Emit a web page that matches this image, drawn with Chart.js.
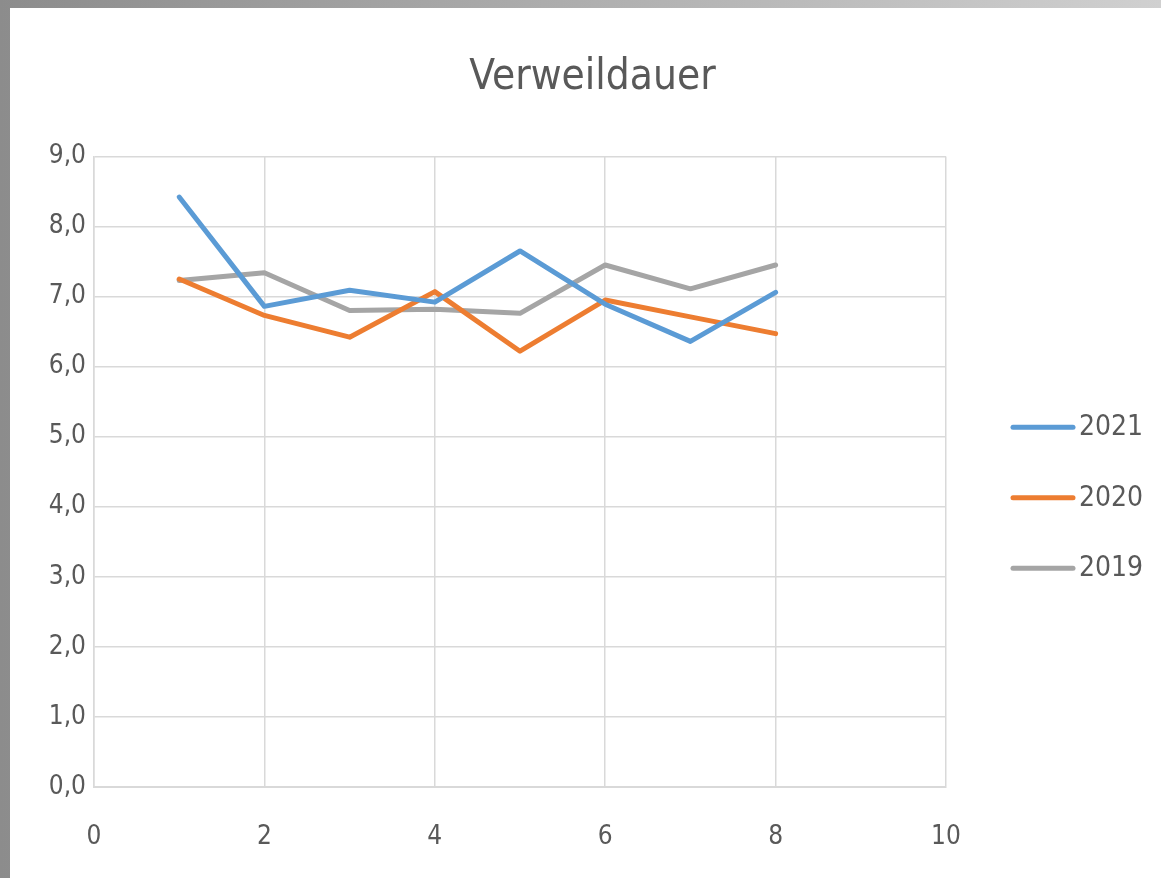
<!DOCTYPE html>
<html>
<head>
<meta charset="utf-8">
<script src="https://cdn.jsdelivr.net/npm/chart.js@4"></script>
<style>
  html, body { margin: 0; padding: 0; }
  body { width: 1161px; height: 878px; background: linear-gradient(90deg, #8c8c8c, #b5b5b5 60%, #d0d0d0); overflow: hidden; }
  #frame { position: absolute; left: 10px; top: 8px; width: 1151px; height: 870px; background: #fff; }
  #chart { display: block; }
</style>
</head>
<body>
<div id="frame"><canvas id="chart" width="1151" height="870"></canvas></div>
<script>
// Verweildauer - three yearly lines on a linear x axis
const xValues = [1, 2, 3, 4, 5, 6, 7, 8];
const y2021 = [8.42, 6.86, 7.09, 6.92, 7.65, 6.89, 6.36, 7.06];
const y2020 = [7.25, 6.73, 6.42, 7.07, 6.22, 6.95, 6.71, 6.47];
const y2019 = [7.23, 7.34, 6.80, 6.82, 6.76, 7.45, 7.11, 7.45];
const seriesNames = ['2021', '2020', '2019'];
const xTicks = [0, 2, 4, 6, 8, 10];
const yTicks = [0, 1, 2, 3, 4, 5, 6, 7, 8, 9];

const FONT = '"Liberation Sans Narrow", "DejaVu Sans Condensed", "Liberation Sans", sans-serif';
const TXT = '#595959';
const GRID = '#d9d9d9';
const LINE_W = 5;

function pts(ys) { return xValues.map((x, i) => ({ x: x, y: ys[i] })); }

const colors = ['#5b9bd5', '#ed7d31', '#a5a5a5'];
const datasets = [y2021, y2020, y2019].map((ys, i) => ({
    label: seriesNames[i],
    data: pts(ys),
    borderColor: colors[i],
    backgroundColor: colors[i],
    borderWidth: LINE_W,
    pointRadius: 0,
    tension: 0,
    borderCapStyle: 'round',
    borderJoinStyle: 'round'
}));

// right-hand legend, Excel style: line sample + label, placed next to the plot area
const sideLegend = {
    id: 'sideLegend',
    afterDraw(chart) {
        const { ctx, chartArea } = chart;
        const mid = (chartArea.top + chartArea.bottom) / 2 + 26;
        const x0 = chartArea.right + 67;
        ctx.save();
        ctx.font = '28px ' + FONT;
        ctx.fillStyle = TXT;
        ctx.textBaseline = 'middle';
        ctx.lineCap = 'round';
        ctx.lineWidth = LINE_W;
        chart.data.datasets.forEach((ds, i) => {
            const y = mid + (i - 1) * 70.5;
            ctx.strokeStyle = ds.borderColor;
            ctx.beginPath();
            ctx.moveTo(x0, y);
            ctx.lineTo(x0 + 60, y);
            ctx.stroke();
            ctx.fillText(ds.label, x0 + 66, y + 1);
        });
        ctx.restore();
    }
};

new Chart(document.getElementById('chart'), {
    type: 'line',
    data: { datasets },
    plugins: [sideLegend],
    options: {
        responsive: false,
        animation: false,
        layout: { padding: { top: 16, right: 0, bottom: 7, left: 14 } },
        plugins: {
            title: {
                display: true, text: 'Verweildauer', color: TXT,
                font: { family: FONT, size: 42, weight: 'normal' }, padding: { top: 29, bottom: 53 }
            },
            legend: { display: false },
            tooltip: { enabled: false }
        },
        scales: {
            x: {
                type: 'linear', min: 0, max: 10,
                afterBuildTicks: s => { s.ticks = xTicks.map(v => ({ value: v })); },
                afterFit: s => { s.height = 84; },
                ticks: { color: TXT, font: { family: FONT, size: 26 }, padding: 35 },
                grid: { color: GRID, lineWidth: 1.5, drawTicks: false },
                border: { color: GRID, width: 2 }
            },
            y: {
                min: 0, max: 9,
                afterBuildTicks: s => { s.ticks = yTicks.map(v => ({ value: v })); },
                afterFit: s => { s.width = 70; },
                ticks: {
                    color: TXT, font: { family: FONT, size: 26 }, padding: 8,
                    callback: v => v.toFixed(1).replace('.', ',')
                },
                grid: { color: GRID, lineWidth: 1.5, drawTicks: false },
                border: { color: GRID, width: 1.5 }
            },
            // empty axis on the right that only keeps room for the legend
            side: {
                position: 'right', display: true,
                afterFit: s => { s.width = 215; },
                ticks: { display: false },
                grid: { display: false, drawTicks: false },
                border: { display: false }
            }
        }
    }
});
</script>
</body>
</html>
